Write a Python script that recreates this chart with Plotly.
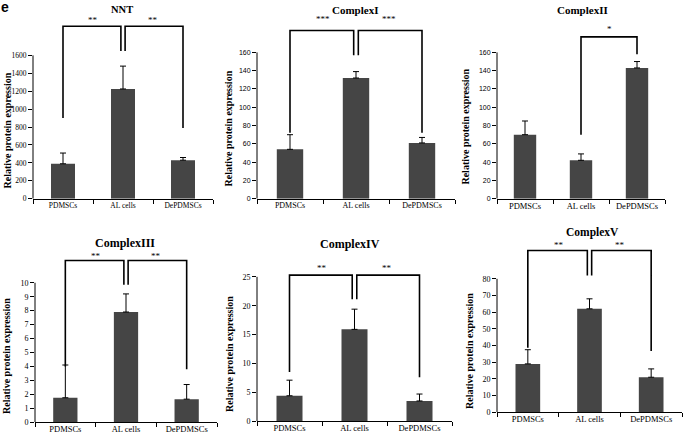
import plotly.graph_objects as go

W, H = 685, 441

# ---------------- data ----------------
categories = ["PDMSCs", "AL cells", "DePDMSCs"]
titles = ["NNT", "ComplexI", "ComplexII", "ComplexIII", "ComplexIV", "ComplexV"]

nnt_vals = [390, 1225, 430]
nnt_err_top = [510, 1480, 460]
c1_vals = [54, 132, 61]
c1_err_top = [70, 139, 67]
c2_vals = [70, 42, 143]
c2_err_top = [85, 49, 150]
c3_vals = [1.75, 7.9, 1.65]
c3_err_top = [4.1, 9.2, 2.7]
c4_vals = [4.4, 15.9, 3.5]
c4_err_top = [7.1, 19.4, 4.7]
c5_vals = [29, 62, 21]
c5_err_top = [37.5, 68, 26]

tick_top = [1600, 160, 160, 10, 25, 80]
tick_step = [200, 20, 20, 1, 5, 10]

# significance brackets: (kind, top, left arm end, right arm end, middle end, star y, stars)
brackets = [
    ("double", 1925, 900, 790, 1650, 1990, "**"),
    ("double", 184, 72, 72, 157, 196, "***"),
    ("single", 177, 70, 158, None, 186, "*"),
    ("double", 11.6, 4.0, 3.8, 9.85, 11.95, "**"),
    ("double", 25.3, 8.5, 7.6, 21.1, 26.6, "**"),
    ("double", 97, 38.7, 36.7, 82, 100.5, "**"),
]

values = [nnt_vals, c1_vals, c2_vals, c3_vals, c4_vals, c5_vals]
err_tops = [nnt_err_top, c1_err_top, c2_err_top, c3_err_top, c4_err_top, c5_err_top]

# ---------------- layout geometry (pixels) ----------------
# x0, x1, y-bottom px, px of top tick, px of range top, title x, title y, ytitle x, ytitle y
geom = [
    (33, 213, 201, 56, 14, 122, 10, 8, 132),
    (257, 455, 201, 53, 14, 355, 10, 229, 130),
    (497, 665, 201, 53, 14, 582, 10, 466, 128),
    (35, 217, 427, 286, 254, 125, 246, 7, 360),
    (257, 452, 426, 280, 264, 350, 247, 230, 358),
    (497, 682, 417, 282, 240, 592, 235, 470, 355),
]
SERIF = "Liberation Serif, Times New Roman, Times, serif"
SANS = "Liberation Sans, Arial, Helvetica, sans-serif"
ytick_fonts = [(SERIF, 7.5), (SANS, 7), (SANS, 7), (SERIF, 8), (SERIF, 8), (SERIF, 8)]
xtick_sizes = [7.5, 8, 8.5, 8.5, 8.5, 8.5]
title_sizes = [10.5, 11, 11, 12, 12, 11.5]

BAR = "#454545"
fig = go.Figure()
layout = dict(width=W, height=H, margin=dict(l=0, r=0, t=0, b=0),
              paper_bgcolor="white", plot_bgcolor="white", showlegend=False)
annotations = []
shapes = []

for i in range(6):
    n = "" if i == 0 else str(i + 1)
    xa, ya = "x" + n, "y" + n
    x0, x1, yb, yt, ytop, tx, ty, ytx, yty = geom[i]
    ppu = (yb - yt) / tick_top[i]
    rtop = (yb - ytop) / ppu
    vals = values[i]
    tops = err_tops[i]
    xs = [0, 1, 2]

    fig.add_trace(go.Bar(
        x=xs, y=vals, width=0.4, marker=dict(color=BAR, line=dict(width=0)),
        error_y=dict(type="data", symmetric=False,
                     array=[t - v for t, v in zip(tops, vals)],
                     arrayminus=[0, 0, 0], color="black", thickness=1, width=3),
        xaxis=xa, yaxis=ya, hoverinfo="skip"))

    kind, btop, armL, armR, mid, sy, stars = brackets[i]
    lk = dict(color="black", width=1.6)
    if kind == "double":
        d = 0.035
        fig.add_trace(go.Scatter(x=[0, 0, 1 - d, 1 - d], y=[armL, btop, btop, mid],
                                 mode="lines", line=lk, xaxis=xa, yaxis=ya, hoverinfo="skip"))
        fig.add_trace(go.Scatter(x=[1 + d, 1 + d, 2, 2], y=[mid, btop, btop, armR],
                                 mode="lines", line=lk, xaxis=xa, yaxis=ya, hoverinfo="skip"))
        for sx in (0.5, 1.5):
            annotations.append(dict(x=sx, y=sy, xref=xa, yref=ya, text=stars, showarrow=False,
                                    font=dict(family=SERIF, size=9, color="black")))
    else:
        fig.add_trace(go.Scatter(x=[1, 1, 2, 2], y=[armL, btop, btop, armR],
                                 mode="lines", line=lk, xaxis=xa, yaxis=ya, hoverinfo="skip"))
        annotations.append(dict(x=1.5, y=sy, xref=xa, yref=ya, text=stars, showarrow=False,
                                font=dict(family=SERIF, size=9, color="black")))

    layout["xaxis" + n] = dict(
        domain=[x0 / W, x1 / W], anchor=ya, range=[-0.5, 2.5],
        tickvals=xs, ticktext=categories, ticks="", ticklen=0, showgrid=False, zeroline=False,
        showline=True, linecolor="black", linewidth=1, ticklabelstandoff=-1,
        tickfont=dict(family=SERIF, size=xtick_sizes[i], color="black"),
        minor=dict(tickvals=[-0.5, 0.5, 1.5, 2.5], ticks="outside", ticklen=4,
                   tickcolor="black", tickwidth=1, showgrid=False))
    layout["yaxis" + n] = dict(
        domain=[1 - yb / H, 1 - ytop / H], anchor=xa, range=[0, rtop],
        tickvals=list(range(0, tick_top[i] + 1, tick_step[i])),
        ticks="outside", ticklen=4, tickcolor="black", tickwidth=1,
        showgrid=False, zeroline=False, showline=False,
        tickfont=dict(family=ytick_fonts[i][0], size=ytick_fonts[i][1], color="black"))
    shapes.append(dict(type="line", xref=(xa + " domain"), yref=ya, x0=0, x1=0,
                       y0=0, y1=tick_top[i], line=dict(color="black", width=1)))

    annotations.append(dict(x=tx / W, y=1 - ty / H, xref="paper", yref="paper", text="<b>%s</b>" % titles[i],
                            showarrow=False, xanchor="center", yanchor="middle",
                            font=dict(family=SERIF, size=title_sizes[i], color="black")))
    annotations.append(dict(x=ytx / W, y=1 - yty / H, xref="paper", yref="paper",
                            text="<b>Relative protein expression</b>", textangle=-90,
                            showarrow=False, xanchor="center", yanchor="middle",
                            font=dict(family=SERIF, size=10, color="black")))

annotations.append(dict(x=5 / W, y=1 - 7 / H, xref="paper", yref="paper", text="<b>e</b>",
                        showarrow=False, xanchor="center", yanchor="middle",
                        font=dict(family=SANS, size=14, color="black")))

layout["annotations"] = annotations
layout["shapes"] = shapes
fig.update_layout(**layout)
fig.write_html("out.html", config={"displayModeBar": False},
               post_script="document.body.style.margin='0';document.body.style.overflow='hidden';")
